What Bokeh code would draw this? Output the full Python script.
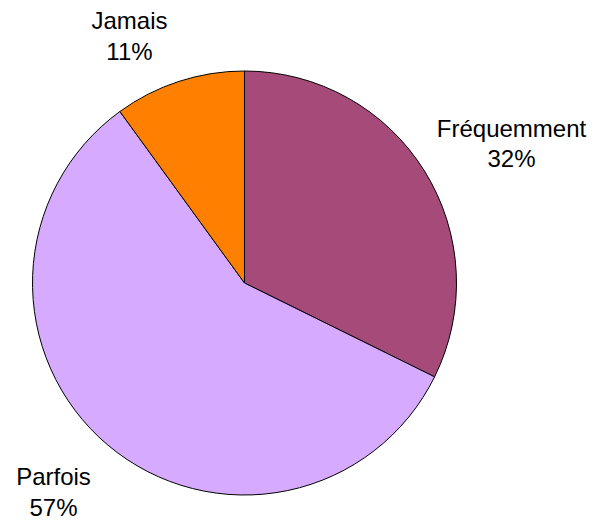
import numpy as np
from bokeh.plotting import figure
from bokeh.models import ColumnDataSource, Range1d
from bokeh.core.properties import value
from bokeh.embed import file_html
from bokeh.resources import INLINE

# Data
categories = ["Fréquemment", "Parfois", "Jamais"]
shares = [32.3, 57.7, 10.0]          # slice sizes as drawn (percent)
pct_labels = ["32%", "57%", "11%"]    # labels printed on the chart
colors = ["#A64A7A", "#D5AAFF", "#FF8000"]

# Label anchor positions (page pixels: x center, name line, pct line)
label_x = [511, 53, 129]
name_base = [128, 476, 20]
pct_base = [158, 507, 51]

W, H = 595, 521
p = figure(width=W, height=H, output_backend="svg", toolbar_location=None,
           x_range=Range1d(0, W), y_range=Range1d(0, H),
           min_border=0)
p.axis.visible = False
p.grid.visible = False
p.outline_line_color = None
p.background_fill_color = "white"
p.border_fill_color = "white"

def py(y):
    return H - y

cx, cy, r = 244, py(282.5), 212
fr = np.array(shares) / sum(shares)
cum = np.concatenate([[0], np.cumsum(fr)])
start = [np.pi / 2 - cum[i + 1] * 2 * np.pi for i in range(len(fr))]
end = [np.pi / 2 - cum[i] * 2 * np.pi for i in range(len(fr))]

src = ColumnDataSource(dict(x=[cx] * 3, y=[cy] * 3, start=start, end=end,
                            color=colors, cat=categories))
p.wedge(x="x", y="y", radius=r, start_angle="start", end_angle="end",
        fill_color="color", line_color="black", line_width=1, source=src)

tsrc = ColumnDataSource(dict(x=label_x, yn=[py(v) for v in name_base],
                             yp=[py(v) for v in pct_base],
                             name=categories, pct=pct_labels))
for col, ycol in (("name", "yn"), ("pct", "yp")):
    p.text(x="x", y=ycol, text=col, source=tsrc, text_align="center",
           text_baseline="alphabetic", text_font=value("Liberation Sans"),
           text_font_size="24px", text_color="black")

open("out.html", "w").write(file_html(p, INLINE))
